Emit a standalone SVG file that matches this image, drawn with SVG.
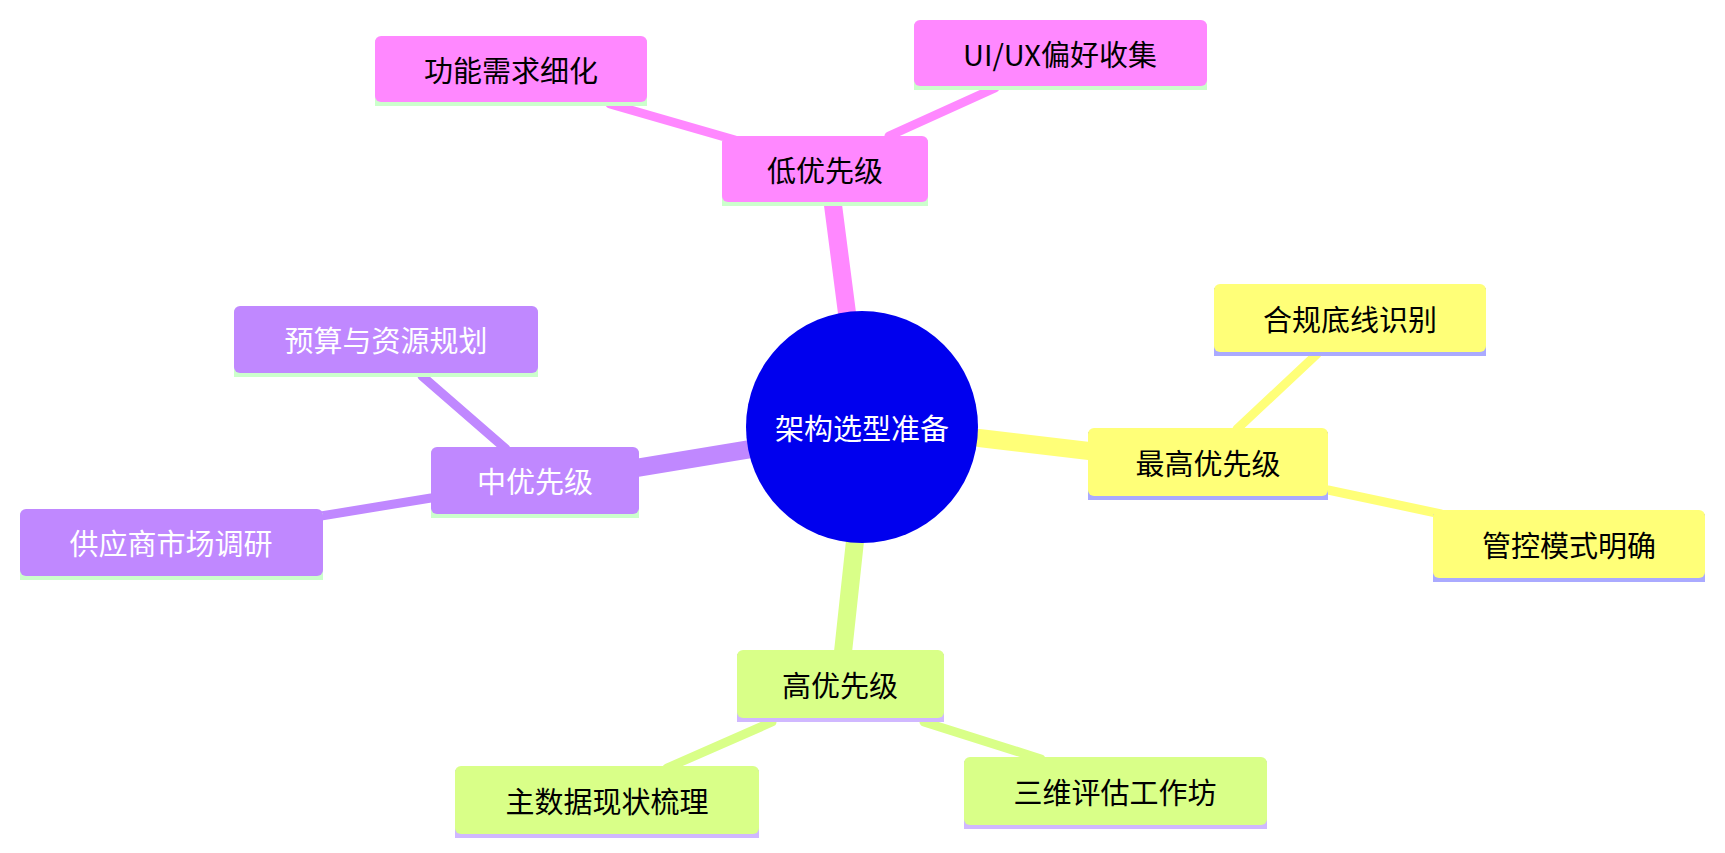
<svg xmlns="http://www.w3.org/2000/svg" width="1725" height="853" viewBox="0 0 1725 853">
<style>
text{font-family:"Noto Sans CJK SC","Noto Sans",sans-serif;font-size:29px;text-anchor:middle;dominant-baseline:central}
.pk{fill:#ff88ff}.yl{fill:#ffff78}.gr{fill:#d9ff88}.pu{fill:#c088ff}
.s1{fill:#ccffcc}.s2{fill:#aaaaff}.s3{fill:#d0b8ff}
.e{fill:none;stroke-linecap:round}
</style>
<rect width="1725" height="853" fill="#fff"/>
<g id="connectors">
<path class="e" stroke="#ff88ff" stroke-width="18" d="M847,313L833,205"/>
<path class="e" stroke="#ff88ff" stroke-width="9" d="M735,140L610,104M889,136L995,88"/>
<path class="e" stroke="#ffff78" stroke-width="18" d="M979,438L1089,451"/>
<path class="e" stroke="#ffff78" stroke-width="9" d="M1237,429L1317,354M1328,490L1441,514"/>
<path class="e" stroke="#d9ff88" stroke-width="18" d="M855,541L843,652"/>
<path class="e" stroke="#d9ff88" stroke-width="9" d="M772,722L667,768M924,722L1041,759"/>
<path class="e" stroke="#c088ff" stroke-width="18" d="M751,449L636,468"/>
<path class="e" stroke="#c088ff" stroke-width="9" d="M506,449L422,376M431,498L321,516"/>
</g>
<g id="root"><circle cx="862" cy="427" r="116" fill="#0000ee"/><text x="862" y="427" fill="#fff">架构选型准备</text></g>
<g id="low"><rect class="s1" x="722" y="140" width="206" height="66"/><rect class="pk" x="722" y="136" width="206" height="66" rx="6"/><text x="825" y="169">低优先级</text></g>
<g id="func"><rect class="s1" x="375" y="40" width="272" height="66"/><rect class="pk" x="375" y="36" width="272" height="66" rx="6"/><text x="511" y="69">功能需求细化</text></g>
<g id="uiux"><rect class="s1" x="914" y="24" width="293" height="66"/><rect class="pk" x="914" y="20" width="293" height="66" rx="6"/><text x="1060" y="53">UI/UX偏好收集</text></g>
<g id="top"><rect class="s2" x="1088" y="432" width="240" height="68"/><rect class="yl" x="1088" y="428" width="240" height="68" rx="6"/><text x="1208" y="462">最高优先级</text></g>
<g id="comp"><rect class="s2" x="1214" y="288" width="272" height="68"/><rect class="yl" x="1214" y="284" width="272" height="68" rx="6"/><text x="1350" y="318">合规底线识别</text></g>
<g id="ctrl"><rect class="s2" x="1433" y="514" width="272" height="68"/><rect class="yl" x="1433" y="510" width="272" height="68" rx="6"/><text x="1569" y="544">管控模式明确</text></g>
<g id="high"><rect class="s3" x="737" y="654" width="207" height="68"/><rect class="gr" x="737" y="650" width="207" height="68" rx="6"/><text x="840" y="684">高优先级</text></g>
<g id="mdm"><rect class="s3" x="455" y="770" width="304" height="68"/><rect class="gr" x="455" y="766" width="304" height="68" rx="6"/><text x="607" y="800">主数据现状梳理</text></g>
<g id="work"><rect class="s3" x="964" y="761" width="303" height="68"/><rect class="gr" x="964" y="757" width="303" height="68" rx="6"/><text x="1115" y="791">三维评估工作坊</text></g>
<g id="mid"><rect class="s1" x="431" y="451" width="208" height="67"/><rect class="pu" x="431" y="447" width="208" height="67" rx="6"/><text x="535" y="480" fill="#fff">中优先级</text></g>
<g id="budget"><rect class="s1" x="234" y="310" width="304" height="67"/><rect class="pu" x="234" y="306" width="304" height="67" rx="6"/><text x="386" y="339" fill="#fff">预算与资源规划</text></g>
<g id="vendor"><rect class="s1" x="20" y="513" width="303" height="67"/><rect class="pu" x="20" y="509" width="303" height="67" rx="6"/><text x="171" y="542" fill="#fff">供应商市场调研</text></g>
</svg>
